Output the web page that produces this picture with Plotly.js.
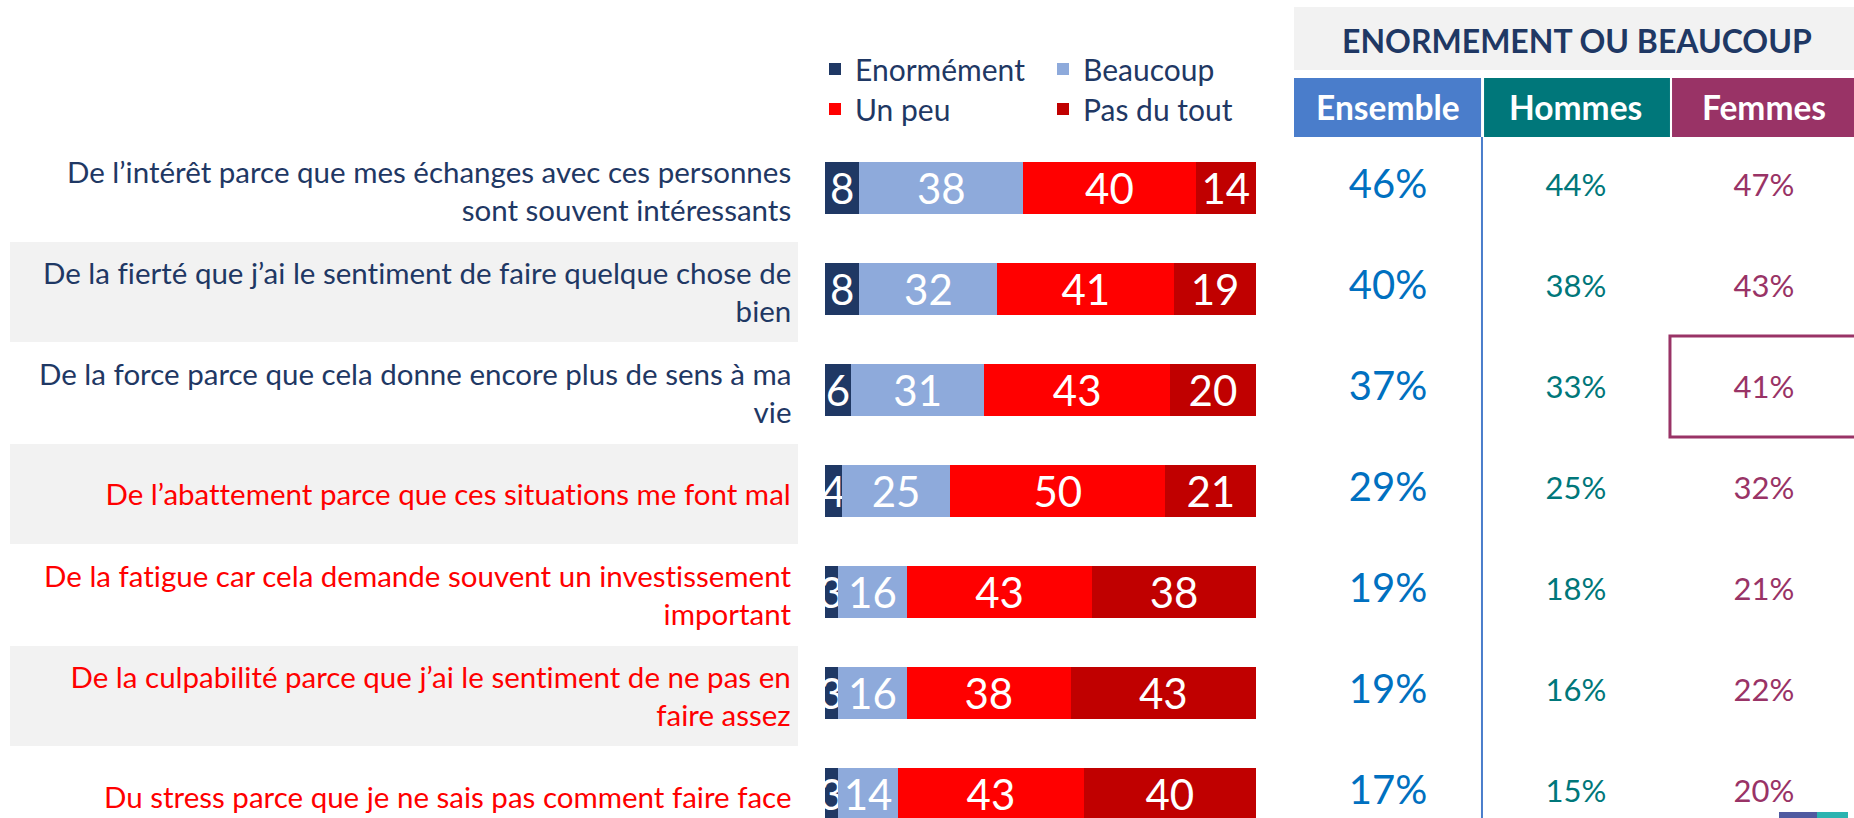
<!DOCTYPE html>
<html>
<head>
<meta charset="utf-8">
<script src="https://cdn.plot.ly/plotly-3.0.1.min.js"></script>
<style>
  html, body { margin: 0; padding: 0; background: #ffffff; }
  #chart { width: 1854px; height: 818px; }
  #chart text { font-variant-ligatures: none; font-feature-settings: "liga" 0, "clig" 0; }
</style>
</head>
<body>
<div id="chart"></div>
<script>
// ---------- data ----------
const categories = [
  "De l’intérêt parce que mes échanges avec ces personnes\nsont souvent intéressants",
  "De la fierté que j’ai le sentiment de faire quelque chose de\nbien",
  "De la force parce que cela donne encore plus de sens à ma\nvie",
  "De l’abattement parce que ces situations me font mal",
  "De la fatigue car cela demande souvent un investissement\nimportant",
  "De la culpabilité parce que j’ai le sentiment de ne pas en\nfaire assez",
  "Du stress parce que je ne sais pas comment faire face"
];
const tonalite = ["positif", "positif", "positif", "négatif", "négatif", "négatif", "négatif"];

const seriesNames = ["Enormément", "Beaucoup", "Un peu", "Pas du tout"];
const enormement = [8, 8, 6, 4, 3, 3, 3];
const beaucoup   = [38, 32, 31, 25, 16, 16, 14];
const unPeu      = [40, 41, 43, 50, 43, 38, 43];
const pasDuTout  = [14, 19, 20, 21, 38, 43, 40];

const columns  = ["Ensemble", "Hommes", "Femmes"];
const ensemble = [46, 40, 37, 29, 19, 19, 17];
const hommes   = [44, 38, 33, 25, 18, 16, 15];
const femmes   = [47, 43, 41, 32, 21, 22, 20];
const tableTitle = "ENORMEMENT OU BEAUCOUP";
const highlighted = { column: "Femmes", row: 2 };

// ---------- styling ----------
const W = 1854, H = 818;
const FONT = "Lato, 'Open Sans', sans-serif";
const NAVY = "#1f3864";
const barColors = ["#1f3864", "#8eaadb", "#ff0000", "#c00000"];
const colColors = ["#4a7dcb", "#00777a", "#993366"];
const valColors = ["#0070c0", "#00777a", "#993366"];
const px = v => v / W;
const py = v => 1 - v / H;

const yKeys = categories.map(c => c);

const seriesValues = [enormement, beaucoup, unPeu, pasDuTout];
const legendIds = ["legend", "legend2", "legend3", "legend4"];

const traces = seriesValues.map((vals, k) => ({
  type: "bar",
  orientation: "h",
  name: seriesNames[k],
  x: vals,
  y: yKeys,
  xaxis: "x",
  yaxis: "y",
  width: 0.515,
  marker: { color: barColors[k], line: { width: 0 } },
  text: vals.map(String),
  textposition: "inside",
  insidetextanchor: "middle",
  constraintext: "none",
  textangle: 0,
  textfont: { family: FONT, size: 42, color: "#ffffff" },
  hoverinfo: "skip",
  legend: legendIds[k],
  showlegend: true
}));

const tableSeries = [ensemble, hommes, femmes];
const tableSizes = [40, 31, 31];
tableSeries.forEach((vals, c) => {
  traces.push({
    type: "scatter",
    mode: "text",
    x: vals.map(() => columns[c]),
    y: yKeys,
    xaxis: "x2",
    yaxis: "y",
    text: vals.map(v => v + "%"),
    textposition: "middle center",
    textfont: { family: FONT, size: tableSizes[c], color: valColors[c] },
    hoverinfo: "skip",
    showlegend: false,
    cliponaxis: false
  });
});

// ---------- shapes ----------
const shapes = [];
categories.forEach((c, i) => {
  if (i % 2 === 1) {
    shapes.push({
      type: "rect", layer: "below", xref: "paper", yref: "y",
      x0: px(10), x1: px(798), y0: i - 0.465, y1: i + 0.525,
      fillcolor: "#f2f2f2", line: { width: 0 }
    });
  }
});
shapes.push({
  type: "rect", layer: "below", xref: "paper", yref: "paper",
  x0: px(1294), x1: 1.01, y0: py(70), y1: py(7),
  fillcolor: "#f2f2f2", line: { width: 0 }
});
const colBounds = [[-0.5, 0.495], [0.511, 1.5], [1.511, 2.7]];
columns.forEach((c, i) => {
  shapes.push({
    type: "rect", layer: "below", xref: "x2", yref: "paper",
    x0: colBounds[i][0], x1: colBounds[i][1], y0: py(137), y1: py(78),
    fillcolor: colColors[i], line: { width: 0 }
  });
});
shapes.push({
  type: "line", xref: "x2", yref: "paper",
  x0: 0.5, x1: 0.5, y0: 0, y1: py(137),
  line: { color: "#4a7dcb", width: 2 }
});
const hc = columns.indexOf(highlighted.column);
shapes.push({
  type: "rect", xref: "x2", yref: "y",
  x0: hc - 0.5, x1: hc + 1.2, y0: highlighted.row - 0.535, y1: highlighted.row + 0.465,
  fillcolor: "rgba(0,0,0,0)", line: { color: "#993366", width: 3 }
});
shapes.push({ type: "rect", xref: "paper", yref: "paper", x0: px(1779), x1: px(1817), y0: 0, y1: 6 / H, fillcolor: "#4f5aa0", line: { width: 0 } });
shapes.push({ type: "rect", xref: "paper", yref: "paper", x0: px(1817), x1: px(1848), y0: 0, y1: 6 / H, fillcolor: "#2bb3b0", line: { width: 0 } });

// ---------- annotations ----------
const annotations = [];
categories.forEach((c, i) => {
  annotations.push({
    xref: "paper", yref: "y", x: px(793), y: yKeys[i],
    xanchor: "right", yanchor: "middle", align: "right",
    text: c.replace("\n", "<br>"),
    showarrow: false, yshift: -3,
    font: { family: FONT, size: 29.5, color: tonalite[i] === "positif" ? NAVY : "#ff0000" }
  });
});
annotations.push({
  xref: "paper", yref: "paper", x: px(1577), y: py(40),
  xanchor: "center", yanchor: "middle",
  text: "<b>" + tableTitle + "</b>", showarrow: false,
  font: { family: FONT, size: 32, color: NAVY }
});
columns.forEach((c, i) => {
  annotations.push({
    xref: "x2", yref: "paper", x: c, y: py(107),
    xanchor: "center", yanchor: "middle",
    text: "<b>" + c + "</b>", showarrow: false,
    font: { family: FONT, size: 33.5, color: "#ffffff" }
  });
});

// ---------- legends ----------
const legendPos = [[815, 69], [1043, 69], [815, 109], [1043, 109]];
const legendCommon = k => ({
  x: px(legendPos[k][0]), y: py(legendPos[k][1]),
  xref: "paper", yref: "paper",
  xanchor: "left", yanchor: "middle",
  orientation: "h",
  bgcolor: "rgba(0,0,0,0)", borderwidth: 0,
  font: { family: FONT, size: 30, color: NAVY },
  itemclick: false, itemdoubleclick: false
});

const layout = {
  width: W, height: H,
  margin: { l: 0, r: 0, t: 0, b: 0, pad: 0 },
  paper_bgcolor: "#ffffff",
  plot_bgcolor: "rgba(0,0,0,0)",
  barmode: "stack",
  bargap: 0,
  showlegend: true,
  hovermode: false,
  xaxis: {
    domain: [px(825), px(1256)], range: [0, 100],
    visible: false, fixedrange: true
  },
  xaxis2: {
    domain: [px(1294), 1], range: [-0.5, 2.479],
    type: "category", categoryorder: "array", categoryarray: columns,
    anchor: "y", visible: false, fixedrange: true
  },
  yaxis: {
    domain: [0, 1], type: "category",
    categoryorder: "array", categoryarray: yKeys,
    range: [6.238, -1.861], visible: false, fixedrange: true
  },
  shapes: shapes,
  annotations: annotations,
  legend: legendCommon(0),
  legend2: legendCommon(1),
  legend3: legendCommon(2),
  legend4: legendCommon(3)
};

Plotly.newPlot("chart", traces, layout, { displayModeBar: false, staticPlot: true, responsive: false });
</script>
</body>
</html>
